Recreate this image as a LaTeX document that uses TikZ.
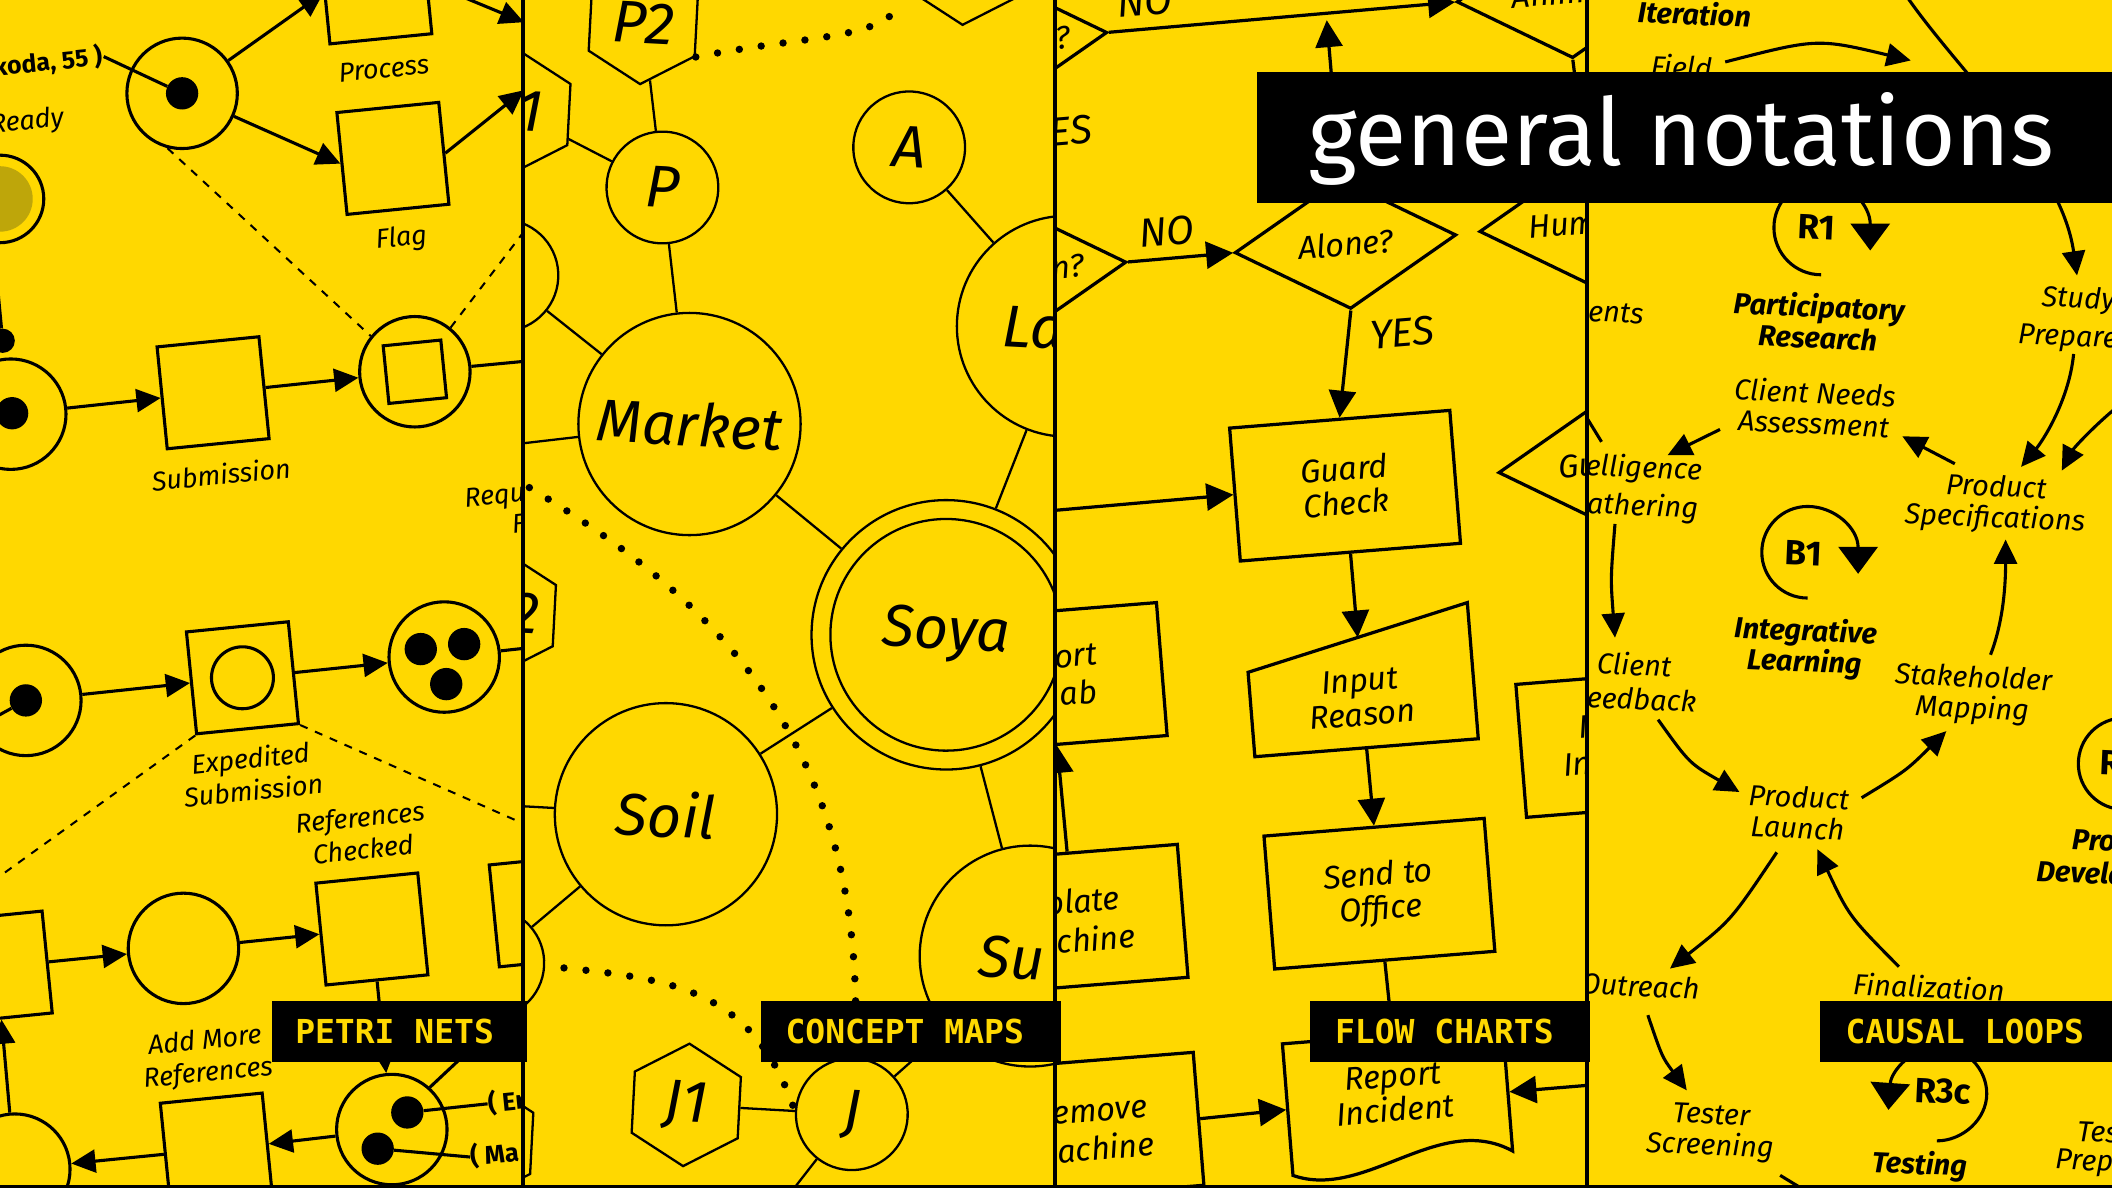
\documentclass[tikz,border=0pt]{standalone}
\usepackage{fontspec}
\setmainfont{Fira Sans}
\newfontfamily\tagmono{DejaVu Sans Mono}
\usetikzlibrary{shapes.geometric,arrows.meta,calc}
\definecolor{bgy}{RGB}{255,216,0}
\definecolor{olivefill}{RGB}{190,166,10}
\begin{document}
\begin{tikzpicture}[x=1pt,y=-1pt,
  pnplace/.style={circle,draw,line width=2.3pt,minimum size=82pt,inner sep=0pt},
  pntoken/.style={circle,fill,inner sep=0pt,minimum size=24pt},
  pntrans/.style={rectangle,draw,line width=2.3pt,minimum width=76pt,minimum height=76pt,inner sep=0pt,rotate=5.7},
  pnlabel/.style={font=\itshape\fontsize{20}{24}\selectfont,align=center,rotate=5.7,inner sep=0pt},
  pnarrow/.style={line width=2.3pt,-{Triangle[length=18pt,width=17pt]}},
  pnline/.style={line width=2.3pt},
  pndash/.style={line width=1.5pt,dash pattern=on 6pt off 6pt},
  hexa/.style={regular polygon,regular polygon sides=6,draw,line width=1.7pt,minimum size=91pt,inner sep=0pt,rotate=27},
  cmnode/.style={circle,draw,line width=1.7pt,inner sep=0pt,rotate=-3,font=\itshape\fontsize{44}{44}\selectfont},
  cmtext/.style={font=\itshape\fontsize{44}{44}\selectfont,rotate=-3,inner sep=0pt},
  cmline/.style={line width=1.7pt},
  cmdot/.style={line width=5.5pt,line cap=round,dash pattern=on 0pt off 16.4pt},
  fbox/.style={rectangle,draw,line width=2.4pt,minimum width=164pt,minimum height=99pt,inner sep=0pt,rotate=4.6,align=center,font=\itshape\fontsize{24}{25.5}\selectfont},
  fdia/.style={diamond,draw,line width=2.4pt,minimum width=165pt,minimum height=97pt,inner sep=0pt,rotate=4.6,font=\itshape\fontsize{24}{25.5}\selectfont},
  ftext/.style={font=\itshape\fontsize{24}{25.5}\selectfont,align=center,rotate=4.6,inner sep=0pt},
  flab/.style={font=\itshape\fontsize{30}{30}\selectfont,rotate=4.6,inner sep=0pt},
  fline/.style={line width=2.4pt},
  farrow/.style={line width=2.4pt,-{Triangle[length=20pt,width=20pt]}},
  cltext/.style={font=\itshape\fontsize{21.5}{23}\selectfont,align=center,rotate=-2.5,inner sep=0pt},
  clbold/.style={font=\bfseries\itshape\fontsize{21.5}{23}\selectfont,align=center,rotate=-2.5,inner sep=0pt},
  clloopname/.style={font=\bfseries\fontsize{26}{26}\selectfont,rotate=-2.5,inner sep=0pt},
  clline/.style={line width=2.3pt},
  clarrow/.style={line width=2.3pt,-{Triangle[length=18pt,width=17pt]}},
  looparrow/.style={line width=2.3pt,-{Triangle[length=20pt,width=29pt]}},
  tagbox/.style={fill=black,anchor=north west,inner sep=0pt,minimum height=45.3pt},
  tagtext/.style={anchor=base west,text=bgy,inner sep=0pt,font=\tagmono\bfseries\fontsize{24.5}{26}\selectfont}
]
\useasboundingbox (0,0) rectangle (1568,882);
\fill[bgy] (0,0) rectangle (1568,882);

%================ PANEL 1 : PETRI NETS
\begin{scope}
\clip (0,0) rectangle (388,882);
\node[pnplace] (pA) at (135.2,69.3) {};
\node[pntoken] (tA) at (135.2,69.3) {};
\node[pntrans] (tProc) at (279,-9) {};
\node[pnlabel] (lProc) at (285,51) {Process};
\node[pntrans] (tFlag) at (291.7,117.6) {};
\node[pnlabel] (lFlag) at (298,177.6) {Flag};
\node[anchor=east,font=\bfseries\fontsize{18.5}{20}\selectfont,rotate=5.7,inner sep=1pt] (koda) at (77,42) {koda, 55 )};
\node[pnlabel,anchor=east] (lReady) at (47.5,88) {Ready};
\node[circle,draw,line width=2.3pt,minimum size=65pt,inner sep=0pt] (pOl) at (0,147.7) {};
\fill[olivefill] (pOl.center) circle[radius=24.3pt];
\node[pntoken,minimum size=18pt] (dot1) at (2,253) {};
\coordinate (olin) at (-4,190);
\node[pnplace] (pB) at (8,307.5) {};
\node[pntoken] (tB) at (9,306.8) {};
\node[pntrans] (tSub) at (158.2,291.6) {};
\node[pnlabel] (lSub) at (164.2,352) {Submission};
\node[pnplace] (pC) at (308,276) {};
\node[rectangle,draw,line width=2.3pt,minimum size=43pt,inner sep=0pt,rotate=5.7] (pCin) at (308,276) {};
\node[pnplace] (pD) at (19.2,520) {};
\node[pntoken] (tD) at (19.2,520) {};
\node[pntrans] (tExp) at (180,503.2) {};
\node[circle,draw,line width=2.3pt,minimum size=46pt,inner sep=0pt] (tExpin) at (180,503.2) {};
\node[pnlabel] (lExp) at (187,574.6) {Expedited\\Submission};
\node[pnplace] (pE) at (329.8,487.8) {};
\node[pntoken] (tE1) at (312.4,481.9) {};
\node[pntoken] (tE2) at (344.6,478.2) {};
\node[pntoken] (tE3) at (331.3,507.9) {};
\node[pnlabel] (lRef) at (268.4,618.5) {References\\Checked};
\node[pntrans] (tF) at (-2.8,718) {};
\node[pnplace] (pG) at (136.2,704.1) {};
\node[pntrans] (tH) at (276.1,689.7) {};
\node[pnplace] (pI) at (290.9,838.6) {};
\node[pntoken] (tI1) at (302.4,825.9) {};
\node[pntoken] (tI2) at (280.4,852.8) {};
\node[pntrans] (tJ) at (160.6,853.1) {};
\node[pnplace] (pK) at (11,868) {};
\node[pntrans] (tL) at (404.8,676.2) {};
\node[pnlabel] (lAdd) at (153.4,785.5) {Add More\\References};
\node[pnlabel,anchor=east] (lReq) at (390,367.5) {Requ};
\node[pnlabel,anchor=east] (lReqF) at (390,388.5) {F};
\node[anchor=west,font=\bfseries\fontsize{19}{20}\selectfont,rotate=5.7,inner sep=0pt] (er) at (362,819.5) {( Er};
\node[anchor=west,font=\bfseries\fontsize{19}{20}\selectfont,rotate=5.7,inner sep=0pt] (ma) at (349,859) {( Ma};
\coordinate (e1) at (389,67);
\coordinate (e2) at (389,16.5);
\coordinate (e3) at (392,268);
\coordinate (e4) at (392,168);
\coordinate (e5) at (-10,536);
\coordinate (e6) at (392,481);
\coordinate (e7) at (-5,654);
\coordinate (e8) at (392,613);
\coordinate (e9) at (345,783);
\draw[pnline] (koda.east) -- (tA);
\draw[pnarrow] (pA) -- (tProc.west);
\draw[pnarrow] (pA) -- (tFlag.west);
\draw[pnarrow] (tFlag.east) -- (e1);
\draw[pnarrow] (tProc.east) -- (e2);
\draw[pnline] (olin) -- (dot1);
\draw[pnarrow] (pB) -- (tSub.west);
\draw[pnarrow] (tSub.east) -- (pC);
\draw[pnline] (pC) -- (e3);
\draw[pndash] (pA.255) -- (pC.141);
\draw[pndash] (pC.51) -- (e4);
\draw[pnline] (tD) -- (e5);
\draw[pnarrow] (pD) -- (tExp.west);
\draw[pnarrow] (tExp.east) -- (pE);
\draw[pnline] (pE) -- (e6);
\draw[pndash] (tExp.south west) -- (e7);
\draw[pndash] (tExp.south east) -- (e8);
\draw[pnarrow] (tF.east) -- (pG);
\draw[pnarrow] (pG) -- (tH.west);
\draw[pnarrow] (tH.south) -- (pI);
\draw[pnline] (pI.48) -- (e9);
\draw[pnarrow] (pI) -- (tJ.east);
\draw[pnarrow] (tJ.west) -- (pK);
\draw[pnarrow] (pK) -- (tF.south);
\draw[pnline] (tI1) -- (er.west);
\draw[pnline] (tI2) -- (ma.west);
\end{scope}

%================ PANEL 2 : CONCEPT MAPS
\begin{scope}
\clip (388,0) rectangle (783,882);
\node[hexa] (hP2) at (477.6,17) {};
\node[cmtext] (xP2) at (477.6,17) {P2};
\node[hexa] (hTop) at (717,-27) {};
\node[hexa] (hP1) at (383,83) {};
\node[cmtext,anchor=east] (xP1) at (403,83) {1};
\node[hexa] (hX) at (372.2,455) {};
\node[cmtext,anchor=east] (xX) at (401,456) {2};
\node[hexa] (hBL) at (355.4,846.8) {};
\node[cmnode,minimum size=83pt] (cP) at (491.8,139.2) {P};
\node[cmnode,minimum size=83pt] (cL) at (373,204.5) {};
\node[cmnode,minimum size=165pt] (cMarket) at (511.9,314.8) {Market};
\node[cmnode,minimum size=83pt] (cA) at (675,109.4) {A};
\node[cmnode,minimum size=164pt] (cLa) at (792.4,242.2) {};
\node[cmtext,anchor=west] (xLa) at (744,242) {La};
\node[cmnode,minimum size=200pt] (cSoya) at (702.5,471.3) {Soya};
\node[cmnode,minimum size=172pt] (cSoyaIn) at (702.5,471.3) {};
\node[cmnode,minimum size=165pt] (cSoil) at (494.4,604.5) {Soil};
\node[cmnode,minimum size=82pt] (cLB) at (363,715) {};
\node[cmnode,minimum size=83pt] (cJ) at (632.4,827.2) {J};
\node[hexa] (hJ1) at (509.5,820.3) {};
\node[cmtext] (xJ1) at (509.5,820.3) {J1};
\node[cmnode,minimum size=164pt] (cSu) at (764.8,709.8) {};
\node[cmtext,anchor=west] (xSu) at (726.6,710) {Su};
\coordinate (m1) at (385,329.5);
\coordinate (m2) at (385,598.4);
\coordinate (m3) at (585,888);
\coordinate (m4) at (393,362);
\draw[cmline] (hP1) -- (cP);
\draw[cmline] (hP2) -- (cP);
\draw[cmline] (cP) -- (cMarket);
\draw[cmline] (cL) -- (cMarket);
\draw[cmline] (cMarket) -- (m1);
\draw[cmline] (cA) -- (cLa);
\draw[cmline] (cLa) -- (cSoya);
\draw[cmline] (cMarket) -- (cSoya);
\draw[cmline] (cSoya) -- (cSoil);
\draw[cmline] (cSoya) -- (cSu);
\draw[cmline] (cSoil) -- (m2);
\draw[cmline] (cSoil) -- (cLB);
\draw[cmline] (hJ1) -- (cJ);
\draw[cmline] (cJ) -- (m3);
\draw[cmline] (cJ) -- (cSu);
\draw[cmdot,shorten >=12pt] (hP2.corner 5) .. controls (600,26) and (650,30) .. (hTop.corner 3);
\draw[cmdot] (m4) .. controls (540,450) and (645,560) .. (cJ.north);
\draw[cmdot,shorten <=14pt] (cLB.east) .. controls (500,727) and (560,735) .. (cJ.west);
\end{scope}

%================ PANEL 3 : FLOW CHARTS
\begin{scope}
\clip (783,0) rectangle (1178.5,882);
\node[fdia] (d1) at (739.8,30.7) {};
\node[ftext] (x1) at (789,28) {?};
\node[fdia] (d2) at (754,201.2) {};
\node[ftext,anchor=east] (x2) at (805,197) {n?};
\node[fdia] (dAlone) at (998.9,181) {Alone?};
\node[fdia] (dAnim) at (1163.7,-5.2) {};
\node[ftext,anchor=base west] (xAnim) at (1123,6) {Anim};
\node[fdia] (dHum) at (1180.6,165.3) {};
\node[ftext,anchor=west] (xHum) at (1134.7,169) {Hum};
\node[fdia] (dGu) at (1194.7,344.3) {};
\node[ftext,anchor=west] (xGu) at (1157,347) {Gu};
\node[fbox] (bGuard) at (998.6,360.6) {Guard\\Check};
\node[fbox,draw=none] (bInp) at (1010.5,504.6) {};
\coordinate (inpTL) at ($(bInp.north west)!0.38!(bInp.south west)$);
\coordinate (inpTop) at ($(inpTL)!0.5!(bInp.north east)$);
\draw[fline] (bInp.south west) -- (bInp.south east) -- (bInp.north east) -- (inpTL) -- cycle;
\node[ftext] (xInp) at (1010.5,518) {Input\\Reason};
\node[fbox] (bSend) at (1024.1,663.5) {Send to\\Office};
\node[fbox,draw=none] (bRep) at (1037.75,817.25) {};
\begin{scope}[shift={(bRep.center)},rotate=4.6]
\draw[fline] (-82,-49) -- (82,-49) -- (82,44) .. controls (30,10) and (-30,72) .. (-82,49) -- cycle;
\end{scope}
\node[ftext] (xRep) at (1035,811.7) {Report\\Incident};
\node[fbox] (bRem) at (808.1,837.2) {};
\node[ftext,anchor=east] (xRem1) at (852,823) {emove};
\node[ftext,anchor=east] (xRem2) at (857,848.5) {achine};
\node[fbox] (bPlate) at (796.3,682.8) {};
\node[ftext,anchor=east] (xPl1) at (831.5,668.7) {plate};
\node[ftext,anchor=east] (xPl2) at (843,694.2) {chine};
\node[fbox] (bOrt) at (780.8,503.3) {};
\node[ftext,anchor=east] (xOr1) at (814.5,486) {ort};
\node[ftext,anchor=east] (xOr2) at (814.5,513) {ab};
\node[fbox] (bIn) at (1211.1,550.9) {};
\node[ftext,anchor=west] (xIn1) at (1172,540) {I};
\node[ftext,anchor=west] (xIn2) at (1160.6,568) {In};
\node[flab] (lNO1) at (850,1) {NO};
\node[flab,anchor=east] (lES) at (811,96) {ES};
\node[flab] (lNO2) at (866,171.6) {NO};
\node[flab] (lYES) at (1041,247) {YES};
\coordinate (fUp) at (985,15);
\coordinate (fIn) at (782,379);
\coordinate (fR) at (1182,805.5);
\draw[farrow] (d1.east) -- (dAnim.west);
\draw[farrow] (dAlone.north) -- (fUp);
\draw[farrow] (d2.east) -- (dAlone.west);
\draw[farrow] (dAlone.south) -- (bGuard.north);
\draw[farrow] (fIn) -- (bGuard.west);
\draw[farrow] (bGuard.south) -- (inpTop);
\draw[farrow] (bInp.south) -- (bSend.north);
\draw[farrow] (bSend.south) -- (bRep.north);
\draw[farrow] (bRem.east) -- (bRep.west);
\draw[farrow] (bPlate.north) -- (bOrt.south);
\draw[farrow] (dAnim.south) -- (dHum.north);
\draw[farrow] (fR) -- (bRep.east);
\end{scope}

%================ PANEL 4 : CAUSAL LOOPS
\begin{scope}
\clip (1178.5,0) rectangle (1568,882);
\node[clbold] (tIter) at (1258,10) {Iteration};
\node[cltext,anchor=base] (tField) at (1248,57.5) {Field};
\node[clbold] (tPart) at (1350,238.5) {Participatory\\Research};
\node[cltext] (tCNA) at (1347,302.6) {Client Needs\\Assessment};
\node[cltext,anchor=west] (tEnts) at (1179,231.6) {ents};
\node[cltext,anchor=west] (tEll) at (1177,346.6) {elligence};
\node[cltext,anchor=west] (tAth) at (1178,375) {athering};
\node[cltext] (tPS) at (1481.5,374.3) {Product\\Specifications};
\node[cltext,anchor=west] (tStudy) at (1515.6,221.6) {Study};
\node[cltext,anchor=west] (tPrep) at (1498,250) {Prepare};
\node[clbold] (tInt) at (1340,481) {Integrative\\Learning};
\node[cltext] (tClient) at (1213.3,493.2) {Client};
\node[cltext,anchor=west] (tFeed) at (1178,517.3) {eedback};
\node[cltext] (tSM) at (1464.6,516) {Stakeholder\\Mapping};
\node[cltext] (tPL) at (1335,603) {Product\\Launch};
\node[cltext,anchor=east] (tOut) at (1262,733.9) {Outreach};
\node[cltext] (tFin) at (1432,732.5) {Finalization};
\node[cltext] (tTS) at (1270,840.8) {Tester\\Screening};
\node[clbold] (tTesting) at (1425,865.5) {Testing};
\node[cltext,anchor=west] (tTes) at (1542,840) {Tes};
\node[cltext,anchor=west] (tPrep2) at (1525.6,862.7) {Prep};
\node[clbold,anchor=west] (tPro) at (1538.2,623.5) {Pro};
\node[clbold,anchor=west] (tDev) at (1511.8,646.1) {Develo};
\node[clloopname] (nR1) at (1349,169) {R1};
\node[clloopname] (nB1) at (1339,410.5) {B1};
\node[clloopname] (nR3) at (1442.5,810.3) {R3c};
\node[clloopname,anchor=west] (nR) at (1559,566) {R};
% loops
\draw[looparrow] (1352,204) .. controls (1332.7,204) and (1317,188.3) .. (1317,169) .. controls (1317,149.7) and (1332.7,134) .. (1352,134) .. controls (1372,134) and (1388.5,152) .. (1388.5,186);
\draw[looparrow] (1342,444) .. controls (1323.2,444) and (1308,428.8) .. (1308,410) .. controls (1308,391.2) and (1323.2,376) .. (1342,376) .. controls (1362,376) and (1379.5,392) .. (1379.5,426);
\draw[looparrow] (1438,847) .. controls (1457,847) and (1475,831) .. (1475,812) .. controls (1475,793) and (1459,777) .. (1440,777) .. controls (1420,777) and (1404,795) .. (1402,824);
\draw[clline] (1577,567) circle[radius=34pt];
% arrows
\coordinate (a1s) at (1277,318.8);  \coordinate (a1e) at (1238,338);
\coordinate (a2s) at (1451.3,344.3); \coordinate (a2e) at (1412.3,323.9);
\coordinate (a3s) at (1539.5,262.8); \coordinate (a3e) at (1500.5,346.6);
\coordinate (a4s) at (1572,302);     \coordinate (a4e) at (1530.7,349.4);
\coordinate (a5s) at (1477.8,486.1); \coordinate (a5e) at (1489,400.6);
\coordinate (a6s) at (1231,534.3);   \coordinate (a6e) at (1291.4,588);
\coordinate (a7s) at (1382.1,592.3); \coordinate (a7e) at (1445,542.8);
\coordinate (a8s) at (1319.1,632.8); \coordinate (a8e) at (1239.8,719.1);
\coordinate (a9s) at (1409.8,717.7); \coordinate (a9e) at (1349.3,630.5);
\coordinate (a10s) at (1223.4,753.7); \coordinate (a10e) at (1252.3,809.5);
\coordinate (a11s) at (1199,389);    \coordinate (a11e) at (1199,473.4);
\coordinate (a12s) at (1280.8,46);   \coordinate (a12e) at (1418.6,44.9);
\coordinate (a13s) at (1412,-8);     \coordinate (a13e) at (1542,204.5);
\coordinate (a14s) at (1321.6,872.6); \coordinate (a14e) at (1342,885);
\coordinate (a15s) at (1170,297);    \coordinate (a15e) at (1189,328);
\draw[clarrow] (a1s) -- (a1e);
\draw[clarrow] (a2s) -- (a2e);
\draw[clarrow] (a3s) .. controls (1536,298) and (1516,328) .. (a3e);
\draw[clarrow] (a4s) .. controls (1556,315) and (1540,332) .. (a4e);
\draw[clarrow] (a5s) .. controls (1486,465) and (1489,440) .. (a5e);
\draw[clarrow] (a6s) .. controls (1254.3,566.8) .. (a6e);
\draw[clarrow] (a7s) .. controls (1415.2,572.1) .. (a7e);
\draw[clarrow] (a8s) .. controls (1285.2,683.3) .. (a8e);
\draw[clarrow] (a9s) .. controls (1372.8,680.3) .. (a9e);
\draw[clarrow] (a10s) .. controls (1234,784.8) .. (a10e);
\draw[clarrow] (a11s) .. controls (1195.7,429.6) .. (a11e);
\draw[clarrow] (a12s) .. controls (1349.2,28.4) .. (a12e);
\draw[clarrow] (a13s) .. controls (1450,50) and (1530,120) .. (a13e);
\draw[clline] (a14s) -- (a14e);
\draw[clline] (a15s) -- (a15e);
\end{scope}

%================ dividers
\draw[line width=3pt] (388,-2) -- (388,884);
\draw[line width=3pt] (783,-2) -- (783,884);
\draw[line width=3pt] (1178.5,-2) -- (1178.5,884);
\draw[line width=2.6pt] (-2,880.8) -- (1570,880.8);

%================ tags and title
\node[tagbox,minimum width=190pt] (bxPN) at (201.4,743.2) {};
\node[tagtext] (txPN) at (219,775) {PETRI NETS};
\node[tagbox,minimum width=222.3pt] (bxCM) at (565,743.2) {};
\node[tagtext] (txCM) at (583,775) {CONCEPT MAPS};
\node[tagbox,minimum width=207.5pt] (bxFC) at (972.5,743.2) {};
\node[tagtext] (txFC) at (991,775) {FLOW CHARTS};
\node[tagbox,minimum width=217pt] (bxCL) at (1351,743.2) {};
\node[tagtext] (txCL) at (1370,775) {CAUSAL LOOPS};
\node[fill=black,anchor=north west,inner sep=0pt,minimum width=636pt,minimum height=97.2pt] (bxTitle) at (933.3,53.4) {};
\node[anchor=base west,text=white,inner sep=0pt,font=\fontsize{69.5}{80}\selectfont] (txTitle) at (971,122.7) {general notations};
\end{tikzpicture}
\end{document}
